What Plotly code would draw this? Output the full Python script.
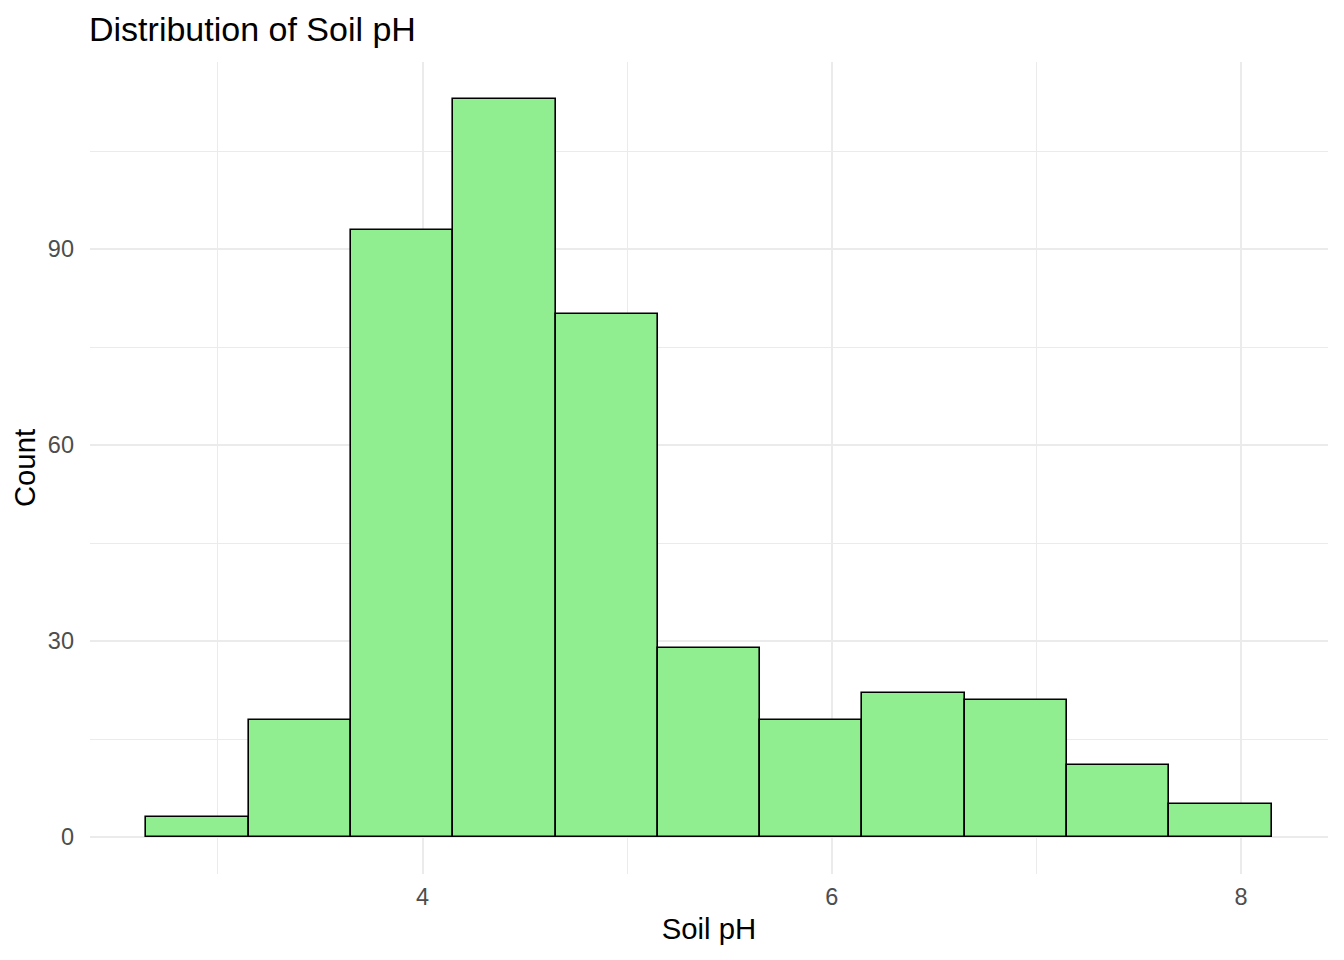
import plotly.graph_objects as go

bin_centers = [2.9, 3.4, 3.9, 4.4, 4.9, 5.4, 5.9, 6.4, 6.9, 7.4, 7.9]
counts = [3, 18, 93, 113, 80, 29, 18, 22, 21, 11, 5]
bin_width = 0.5

# page body has an 8px margin; figure is sized so plot area lands where the reference has it
W, H = 1336, 952

fig = go.Figure()
fig.add_trace(go.Bar(
    x=bin_centers, y=counts, width=[bin_width] * len(bin_centers),
    marker=dict(color="#90EE90", line=dict(color="black", width=1.6)),
    hoverinfo="x+y",
))

grid = "#EBEBEB"
fig.update_layout(
    width=W, height=H,
    paper_bgcolor="white", plot_bgcolor="white",
    margin=dict(l=82, r=16, t=54, b=86, autoexpand=False),
    font=dict(family="Liberation Sans, Arial, sans-serif"),
    title=dict(text="Distribution of Soil pH", x=81 / W, xanchor="left",
               y=1 - 21 / H, yanchor="middle",
               font=dict(size=34, color="black")),
    showlegend=False,
    bargap=0,
    xaxis=dict(
        range=[2.375, 8.425], tickvals=[4, 6, 8], ticks="", automargin=False,
        showgrid=True, gridcolor=grid, gridwidth=1.5, zeroline=False, showline=False,
        minor=dict(tickvals=[3, 5, 7], showgrid=True, gridcolor=grid, gridwidth=0.8),
        tickfont=dict(size=23.5, color="#4D4D4D"), ticklabelstandoff=6,
        title=dict(text="Soil pH", font=dict(size=29.3, color="black"), standoff=9),
    ),
    yaxis=dict(
        range=[-5.65, 118.65], tickvals=[0, 30, 60, 90], ticks="", automargin=False,
        showgrid=True, gridcolor=grid, gridwidth=1.5, zeroline=False, showline=False,
        minor=dict(tickvals=[15, 45, 75, 105], showgrid=True, gridcolor=grid, gridwidth=0.8),
        tickfont=dict(size=23.5, color="#4D4D4D"), ticklabelstandoff=15,
        title=dict(text="Count", font=dict(size=29.3, color="black"), standoff=10),
    ),
)

fig.write_html("out.html")
